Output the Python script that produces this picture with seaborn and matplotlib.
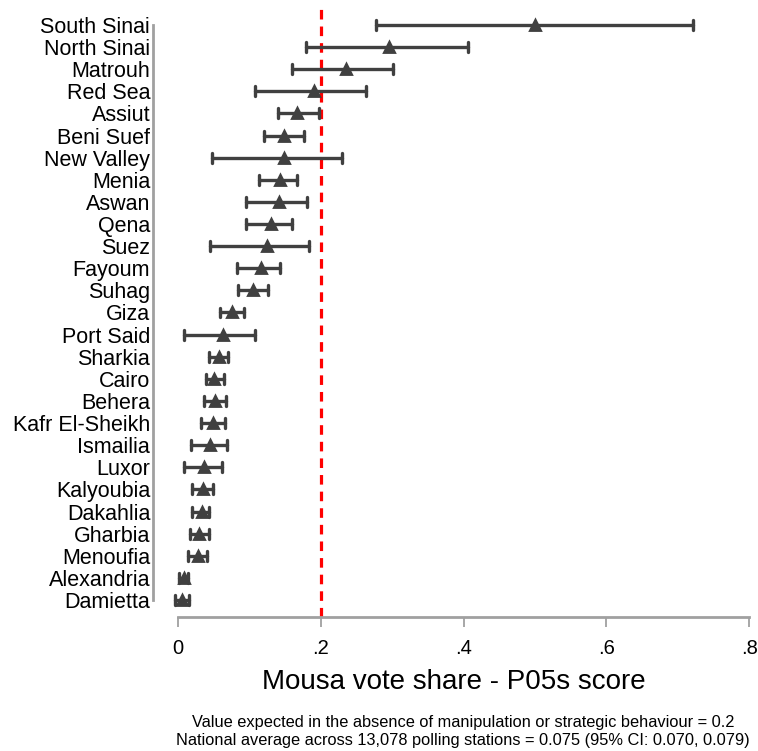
import matplotlib
matplotlib.use("Agg")
import matplotlib.pyplot as plt
import seaborn as sns
import pandas as pd

governorates = ["South Sinai", "North Sinai", "Matrouh", "Red Sea", "Assiut", "Beni Suef",
                "New Valley", "Menia", "Aswan", "Qena", "Suez", "Fayoum", "Suhag", "Giza",
                "Port Said", "Sharkia", "Cairo", "Behera", "Kafr El-Sheikh", "Ismailia",
                "Luxor", "Kalyoubia", "Dakahlia", "Gharbia", "Menoufia", "Alexandria", "Damietta"]
estimate = [0.500, 0.295, 0.235, 0.190, 0.166, 0.149, 0.148, 0.143, 0.141, 0.130, 0.125,
            0.116, 0.105, 0.075, 0.063, 0.057, 0.051, 0.052, 0.049, 0.045, 0.036, 0.035,
            0.033, 0.030, 0.028, 0.008, 0.005]
ci_low = [0.277, 0.179, 0.160, 0.108, 0.140, 0.120, 0.048, 0.114, 0.095, 0.095, 0.045,
          0.082, 0.084, 0.059, 0.009, 0.043, 0.039, 0.036, 0.032, 0.018, 0.009, 0.019,
          0.019, 0.017, 0.014, 0.002, -0.004]
ci_high = [0.721, 0.406, 0.301, 0.263, 0.197, 0.177, 0.229, 0.166, 0.181, 0.160, 0.183,
           0.143, 0.126, 0.092, 0.108, 0.070, 0.064, 0.067, 0.066, 0.069, 0.061, 0.049,
           0.044, 0.043, 0.040, 0.014, 0.016]
x_ticks = [0, 0.2, 0.4, 0.6, 0.8]
x_tick_labels = ["0", ".2", ".4", ".6", ".8"]
reference_value = 0.2

rows = []
for g, lo, pt, hi in zip(governorates, ci_low, estimate, ci_high):
    for v in (lo, pt, hi):
        rows.append({"gov": g, "value": v})
df = pd.DataFrame(rows)

sns.set_style("white")
plt.rcParams["font.family"] = ["Liberation Sans", "DejaVu Sans"]
plt.rcParams["text.color"] = "black"
plt.rcParams["axes.labelcolor"] = "black"

W, H = 758, 751
fig = plt.figure(figsize=(W / 100, H / 100), dpi=100)
L, R, T, B = 153, 755, 8, 617
ax = fig.add_axes([L / W, 1 - B / H, (R - L) / W, (B - T) / H])

dark = "#404040"
sns.pointplot(data=df, x="value", y="gov", order=governorates, orient="h",
              estimator="median", errorbar=("pi", 100), color=dark,
              markers="^", linestyles="none", capsize=0.45,
              err_kws={"linewidth": 2.4}, markersize=7.5, ax=ax)

ax.axvline(reference_value, color="#ff0000", linestyle=(0, (3.0, 2.2)), linewidth=2.3, zorder=0)

px_per_unit = 714.0
x0_px = 178.0
ax.set_xlim(-(x0_px - L) / px_per_unit, (R - x0_px) / px_per_unit)
row_px = 22.115
y0_px = 25.0
ax.set_ylim((B - y0_px) / row_px, -(y0_px - T) / row_px)

for s in ["top", "right"]:
    ax.spines[s].set_visible(False)
ax.spines["left"].set_color("#a0a0a0")
ax.spines["left"].set_linewidth(2)
ax.spines["left"].set_bounds(0, len(governorates) - 1)
ax.spines["bottom"].set_color("#a0a0a0")
ax.spines["bottom"].set_linewidth(2)
ax.spines["bottom"].set_bounds(0, 0.8)

ax.set_xticks(x_ticks)
ax.set_xticklabels(x_tick_labels)
ax.tick_params(axis="x", bottom=True, direction="out", length=7, width=1.3, color="#a0a0a0",
               labelsize=14.5, pad=9, labelcolor="black")
ax.tick_params(axis="y", left=False, length=0, labelsize=15.5, pad=2, labelcolor="black")
ax.set_ylabel("")
ax.set_xlabel("Mousa vote share - P05s score", fontsize=20, labelpad=8, color="black")

fig.text(463 / W, 1 - 722 / H,
         "Value expected in the absence of manipulation or strategic behaviour = 0.2",
         ha="center", va="center", fontsize=11.8, color="black")
fig.text(463 / W, 1 - 740 / H,
         "National average across 13,078 polling stations = 0.075 (95% CI: 0.070, 0.079)",
         ha="center", va="center", fontsize=11.8, color="black")

fig.savefig("out.png", dpi=100)
